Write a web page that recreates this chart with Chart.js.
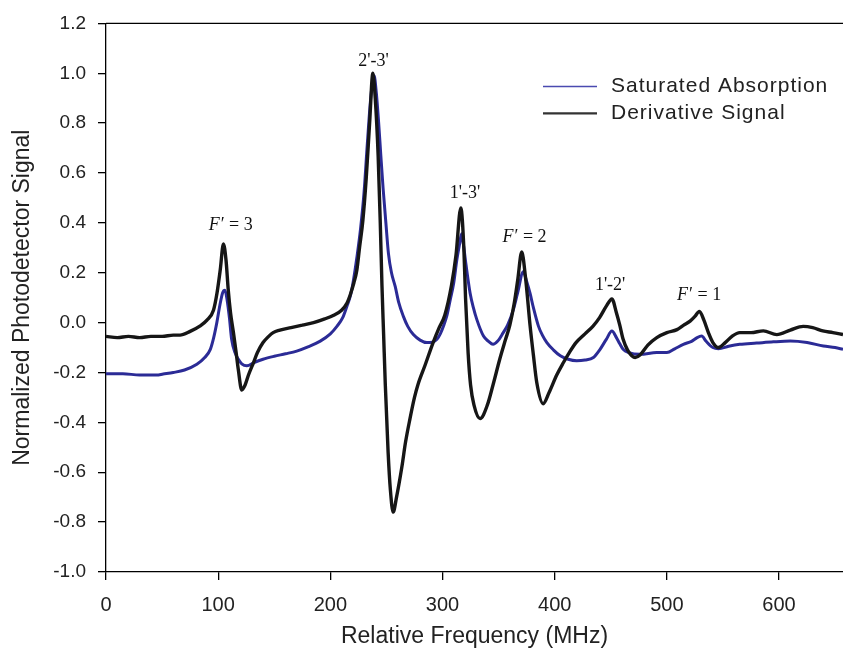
<!DOCTYPE html>
<html>
<head>
<meta charset="utf-8">
<script src="https://cdn.jsdelivr.net/npm/chart.js@4.4.1/dist/chart.umd.min.js"></script>
<style>
  html, body { margin: 0; padding: 0; background: #fff; }
  #wrap { width: 843px; height: 656px; }
</style>
</head>
<body>
<div id="wrap"><canvas id="chart" width="843" height="656"></canvas></div>
<script>
// derivative signal (black)
var derivFreq = [0, 10, 20, 30, 40, 50, 60, 66, 75, 84, 90, 95.8, 99, 101.8, 104.7, 107, 109, 111, 113.6, 116, 118, 121, 124, 127, 131.5, 135, 140, 145, 149, 155, 165, 175, 185, 195, 203, 210, 215, 217.6, 221, 223.6, 226, 229, 232, 235, 237.9, 240, 242.6, 244.5, 246, 247.5, 249, 251.5, 253.5, 256, 259, 263.7, 267, 271, 275, 278, 284.5, 291.6, 297, 302, 308, 312, 316.3, 319, 320.5, 322.8, 325, 328, 333.5, 340, 345, 351, 356, 360, 364, 367, 370.6, 374, 378, 381, 384, 389.7, 395, 401.8, 407.8, 413, 419, 427, 434, 440, 446, 451, 455, 458, 461, 465, 471.7, 476, 483, 491, 500, 509, 515, 520.7, 525, 529, 533, 537, 541, 546, 552, 558, 565, 575, 586, 598, 610, 621.5, 630, 639, 648, 657];
var derivSignal = [-0.055, -0.06, -0.055, -0.06, -0.055, -0.055, -0.05, -0.05, -0.035, -0.013, 0.01, 0.05, 0.12, 0.21, 0.316, 0.25, 0.13, 0.04, -0.04, -0.12, -0.19, -0.27, -0.25, -0.21, -0.16, -0.12, -0.08, -0.055, -0.04, -0.03, -0.02, -0.01, 0.0, 0.015, 0.03, 0.05, 0.08, 0.11, 0.16, 0.21, 0.3, 0.41, 0.58, 0.8, 1.0, 0.9, 0.67, 0.4, 0.15, -0.05, -0.25, -0.52, -0.67, -0.76, -0.7, -0.58, -0.48, -0.385, -0.3, -0.25, -0.17, -0.08, -0.02, 0.03, 0.15, 0.27, 0.46, 0.3, 0.1, -0.12, -0.25, -0.33, -0.385, -0.33, -0.25, -0.147, -0.07, -0.01, 0.08, 0.17, 0.283, 0.18, -0.01, -0.13, -0.24, -0.325, -0.28, -0.21, -0.16, -0.12, -0.08, -0.045, -0.015, 0.02, 0.066, 0.095, 0.04, -0.01, -0.067, -0.11, -0.14, -0.13, -0.09, -0.06, -0.04, -0.028, -0.01, 0.006, 0.025, 0.045, 0.01, -0.04, -0.08, -0.1, -0.08, -0.055, -0.04, -0.04, -0.033, -0.048, -0.03, -0.015, -0.02, -0.033, -0.04, -0.048];

// saturated absorption (blue)
var absFreq = [0, 15, 30, 45, 51, 60, 70, 81, 88, 93, 96, 98.8, 101.5, 104, 106, 108, 110, 112, 115, 118, 121, 125.6, 132, 140, 150, 160, 170, 180, 191, 200, 206, 211, 214.7, 218, 220.6, 223.6, 227, 230, 233, 236, 239, 241, 243, 245, 247, 249.5, 251.8, 254.5, 257.8, 261, 265, 269, 274, 280, 286, 291, 295, 298, 300.8, 304, 306.8, 310, 312.7, 315, 317, 319, 321, 324.6, 327.5, 330.6, 336.5, 341, 345, 349, 354, 358, 363, 367, 372, 375, 378, 381, 385.5, 389, 393, 399, 405, 412, 419.6, 427, 434.5, 440, 446, 451, 455, 458, 461, 466, 476, 491, 500, 507, 514.7, 522, 527, 531, 535, 541, 546, 555, 565, 580, 595, 610, 625, 639.5, 650, 657];
var absSignal = [-0.205, -0.205, -0.21, -0.21, -0.206, -0.2, -0.19, -0.167, -0.14, -0.107, -0.06, 0.0, 0.07, 0.12, 0.13, 0.09, 0.02, -0.067, -0.12, -0.147, -0.165, -0.173, -0.16, -0.147, -0.135, -0.125, -0.114, -0.097, -0.074, -0.045, -0.014, 0.02, 0.065, 0.11, 0.17, 0.26, 0.38, 0.52, 0.72, 0.9, 0.99, 0.92, 0.805, 0.67, 0.54, 0.4, 0.277, 0.2, 0.145, 0.08, 0.026, -0.015, -0.048, -0.07, -0.08, -0.078, -0.067, -0.045, -0.014, 0.03, 0.09, 0.16, 0.25, 0.31, 0.356, 0.3, 0.23, 0.118, 0.06, 0.012, -0.054, -0.075, -0.087, -0.075, -0.041, -0.01, 0.05, 0.12, 0.204, 0.165, 0.118, 0.06, -0.014, -0.05, -0.08, -0.11, -0.133, -0.147, -0.153, -0.15, -0.14, -0.11, -0.067, -0.034, -0.06, -0.085, -0.107, -0.12, -0.127, -0.12, -0.12, -0.105, -0.087, -0.075, -0.06, -0.054, -0.075, -0.1, -0.105, -0.095, -0.087, -0.082, -0.077, -0.074, -0.08, -0.094, -0.1, -0.107];

var xTicks = [0, 100, 200, 300, 400, 500, 600];
var yTicks = [-1.0, -0.8, -0.6, -0.4, -0.2, 0.0, 0.2, 0.4, 0.6, 0.8, 1.0, 1.2];

// peak labels and where they sit (MHz, signal)
var peakNames = ["F′ = 3", "2'-3'", "1'-3'", "F′ = 2", "1'-2'", "F′ = 1"];
var peakFreq  = [110.7, 238.4, 320, 372.7, 449.4, 528.3];
var peakLevel = [0.389, 1.05, 0.52, 0.343, 0.151, 0.111];

var seriesNames = ["Saturated Absorption", "Derivative Signal"];
var blue = "#2b2b96", black = "#161616";

function toPoints(xs, ys) {
    return xs.map(function (x, i) { return { x: x, y: ys[i] }; });
}

var extras = {
    id: 'extras',
    afterDraw: function (chart) {
        var ctx = chart.ctx, a = chart.chartArea;
        var xs = chart.scales.x, ys = chart.scales.y;
        ctx.save();
        // top frame line
        ctx.strokeStyle = '#000';
        ctx.lineWidth = 1.3;
        ctx.beginPath();
        ctx.moveTo(a.left, a.top);
        ctx.lineTo(a.right, a.top);
        ctx.stroke();

        // peak labels
        ctx.fillStyle = '#111';
        ctx.textBaseline = 'middle';
        var serif = '18px "Liberation Serif", "Times New Roman", serif';
        peakNames.forEach(function (name, i) {
            var px = xs.getPixelForValue(peakFreq[i]);
            var py = ys.getPixelForValue(peakLevel[i]);
            if (name.charAt(0) === 'F') {
                var rest = name.slice(1);
                ctx.font = 'italic ' + serif;
                var w1 = ctx.measureText('F').width;
                ctx.font = serif;
                var w2 = ctx.measureText(rest).width;
                var x0 = px - (w1 + w2) / 2;
                ctx.textAlign = 'left';
                ctx.font = 'italic ' + serif;
                ctx.fillText('F', x0, py);
                ctx.font = serif;
                ctx.fillText(rest, x0 + w1 + 1, py);
            } else {
                ctx.textAlign = 'center';
                ctx.font = serif;
                ctx.fillText(name, px, py);
            }
        });

        // legend, top right inside the plot
        var colors = ['#4a4ab0', '#333'];
        var widths = [1.5, 2.2];
        ctx.font = '21px "Liberation Sans", Arial, sans-serif';
        ctx.letterSpacing = '1px';
        ctx.textAlign = 'left';
        seriesNames.forEach(function (name, i) {
            var ly = a.top + 63 + i * 27;
            ctx.strokeStyle = colors[i];
            ctx.lineWidth = widths[i];
            ctx.beginPath();
            ctx.moveTo(a.right - 300, ly);
            ctx.lineTo(a.right - 246, ly);
            ctx.stroke();
            ctx.fillStyle = '#222';
            ctx.fillText(name, a.right - 232, ly);
        });
        ctx.restore();
    }
};

var chart = new Chart(document.getElementById('chart').getContext('2d'), {
    type: 'line',
    data: {
        datasets: [{
            label: seriesNames[1],
            data: toPoints(derivFreq, derivSignal),
            borderColor: black,
            borderWidth: 3.4,
            pointRadius: 0,
            cubicInterpolationMode: 'monotone',
            fill: false,
            order: 0
        }, {
            label: seriesNames[0],
            data: toPoints(absFreq, absSignal),
            borderColor: blue,
            borderWidth: 3,
            pointRadius: 0,
            cubicInterpolationMode: 'monotone',
            fill: false,
            order: 1
        }]
    },
    options: {
        responsive: false,
        animation: false,
        layout: { padding: { top: 17, right: 0, left: 0, bottom: 0 } },
        plugins: { legend: { display: false }, tooltip: { enabled: false } },
        scales: {
            x: {
                type: 'linear',
                min: 0,
                max: 657,
                grid: { drawOnChartArea: false, drawTicks: true, tickLength: 8, color: '#000', lineWidth: 1.3 },
                border: { color: '#000', width: 1.3 },
                afterBuildTicks: function (axis) { axis.ticks = xTicks.map(function (v) { return { value: v }; }); },
                afterFit: function (axis) { axis.height = 84; },
                ticks: {
                    color: '#222',
                    padding: 13,
                    maxRotation: 0,
                    font: { family: '"Liberation Sans", Arial, sans-serif', size: 20 }
                },
                title: {
                    display: true,
                    text: 'Relative Frequency (MHz)',
                    color: '#222',
                    padding: { top: 0, bottom: 6 },
                    font: { family: '"Liberation Sans", Arial, sans-serif', size: 23 }
                }
            },
            y: {
                min: -1.0,
                max: 1.2,
                grid: { drawOnChartArea: false, drawTicks: true, tickLength: 8, color: '#000', lineWidth: 1.3 },
                border: { color: '#000', width: 1.3 },
                afterBuildTicks: function (axis) { axis.ticks = yTicks.map(function (v) { return { value: v }; }); },
                afterFit: function (axis) { axis.width = 106; },
                ticks: {
                    color: '#222',
                    padding: 12,
                    callback: function (v) { return Number(v).toFixed(1); },
                    font: { family: '"Liberation Sans", Arial, sans-serif', size: 19 }
                },
                title: {
                    display: true,
                    text: 'Normalized Photodetector Signal',
                    color: '#222',
                    padding: { top: 9, bottom: 0 },
                    font: { family: '"Liberation Sans", Arial, sans-serif', size: 23 }
                }
            }
        }
    },
    plugins: [extras]
});
</script>
</body>
</html>
